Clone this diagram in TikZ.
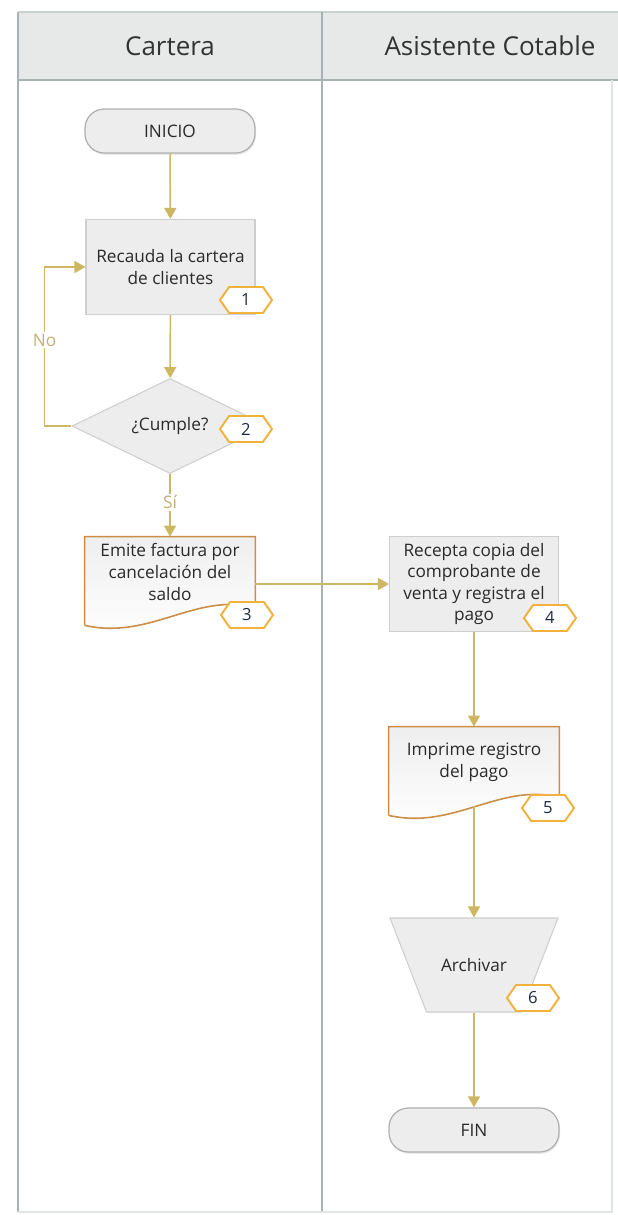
\documentclass[tikz,border=0pt]{standalone}
\usepackage{fontspec}
\setmainfont{Open Sans}
\usetikzlibrary{arrows.meta,shapes.geometric,shapes.symbols,backgrounds,shadows,calc}
\definecolor{lanegray}{HTML}{A9B2B2}
\definecolor{headfill}{HTML}{E7E8E8}
\definecolor{boxfill}{HTML}{EDEDED}
\definecolor{boxline}{HTML}{CECECE}
\definecolor{flowgold}{HTML}{CDB763}
\definecolor{tagorange}{HTML}{F1B13C}
\definecolor{docorange}{HTML}{CC8D45}
\definecolor{labeltan}{HTML}{C4AE74}
\definecolor{inkgray}{HTML}{2A2A2A}
\definecolor{tagink}{HTML}{1F2A44}

\begin{document}
\begin{tikzpicture}[
    font=\fontsize{9.8}{12.3}\selectfont,
    text=inkgray,
    >=Latex,
    terminal/.style={
        draw=boxline!85!black,
        fill=boxfill,
        rounded corners=11pt,
        minimum width=3.4cm,
        minimum height=0.88cm,
        line width=0.7pt,
        drop shadow={opacity=0.18,shadow xshift=0.6pt,shadow yshift=-1pt}
    },
    process/.style={
        draw=boxline,
        fill=boxfill,
        minimum width=3.38cm,
        minimum height=1.9cm,
        align=center,
        line width=0.6pt
    },
    doctext/.style={
        minimum width=3.4cm,
        minimum height=1.4cm,
        align=center
    },
    docline/.style={
        draw=docorange,
        top color=gray!13,
        bottom color=white,
        line width=0.9pt
    },
    decision/.style={
        diamond,
        draw=boxline,
        fill=boxfill,
        minimum width=3.92cm,
        minimum height=1.9cm,
        inner sep=0pt,
        line width=0.6pt
    },
    manual/.style={
        trapezium,
        shape border rotate=180,
        trapezium angle=69,
        trapezium stretches=true,
        draw=boxline,
        fill=boxfill,
        minimum width=3.36cm,
        minimum height=1.88cm,
        line width=0.6pt
    },
    tag/.style={
        signal,
        signal to=east and west,
        signal pointer angle=110,
        draw=tagorange,
        fill=white,
        line width=1.1pt,
        minimum width=1.04cm,
        minimum height=0.52cm,
        inner sep=0pt,
        font=\fontsize{9.5}{11}\selectfont,
        text=tagink
    },
    lanehead/.style={font=\fontsize{14.8}{17}\selectfont,text=black!80},
    flow/.style={-{Triangle[length=2.2mm,width=2.4mm]},draw=flowgold,line width=0.9pt},
    answer/.style={fill=white,text=labeltan,inner sep=1pt}
]
\useasboundingbox (0,0) rectangle (12.36,-24.3);

% Swimlane pool
\fill[headfill] (0.36,-0.24) rectangle (12.36,-1.6);
\draw[lanegray!60,line width=0.8pt] (0.36,-0.24) -- (12.36,-0.24);
\draw[lanegray,line width=1.4pt] (0.36,-1.6) -- (12.36,-1.6);
\draw[lanegray,line width=1pt] (0.36,-0.24) -- (0.36,-24.24);
\draw[lanegray,line width=1pt] (6.44,-0.24) -- (6.44,-24.24);
\draw[lanegray!35,line width=0.6pt] (12.24,-1.6) -- (12.24,-24.24) -- (0.36,-24.24);

\node[lanehead] (cartera) at (3.4,-0.92) {Cartera};
\node[lanehead] (asistente) at (9.8,-0.92) {Asistente Cotable};

% Cartera lane
\node[terminal] (inicio) at (3.4,-2.62) {INICIO};
\node[process] (recauda) at (3.41,-5.34) {Recauda la cartera\\de clientes};
\node[decision] (cumple) at (3.4,-8.52) {¿Cumple?};
\node[doctext] (emite) at (3.4,-11.44) {Emite factura por\\cancelación del\\saldo};

% Asistente lane
\node[process] (recepta) at (9.48,-11.68) {Recepta copia del\\comprobante de\\venta y registra el\\pago};
\node[doctext] (imprime) at (9.48,-15.24) {Imprime registro\\del pago};
\node[manual,label=center:Archivar] (archivar) at (9.48,-19.3) {};
\node[terminal] (fin) at (9.48,-22.6) {FIN};

% Document outlines
\begin{scope}[on background layer]
\draw[docline] ($(emite.south west)+(0,-0.36)$) -- (emite.north west) -- (emite.north east) -- (emite.south east)
    .. controls ($(emite.south east)+(-1.2,0.3)$) and ($(emite.south west)+(1.3,-0.66)$) .. ($(emite.south west)+(0,-0.36)$);
\draw[docline] ($(imprime.south west)+(0,-0.36)$) -- (imprime.north west) -- (imprime.north east) -- (imprime.south east)
    .. controls ($(imprime.south east)+(-1.2,0.3)$) and ($(imprime.south west)+(1.3,-0.66)$) .. ($(imprime.south west)+(0,-0.36)$);
\end{scope}

% Step numbers
\node[tag] (tag1) at (4.92,-6.0) {1};
\node[tag] (tag2) at (4.92,-8.58) {2};
\node[tag] (tag3) at (4.94,-12.3) {3};
\node[tag] (tag4) at (11.0,-12.36) {4};
\node[tag] (tag5) at (10.96,-16.16) {5};
\node[tag] (tag6) at (10.66,-19.96) {6};

% Connectors
\draw[flow] (inicio) -- (recauda);
\draw[flow] (recauda) -- (cumple);
\draw[flow] (cumple.west) -- ++(-0.54,0) |- node[answer,pos=0.27] {No} (recauda.west);
\draw[flow] (cumple.south) -- node[answer,pos=0.45] {Sí} (emite.north);
\draw[flow] (emite.east |- recepta.west) -- (recepta.west);
\draw[flow] (recepta) -- (imprime);
\draw[flow] ($(imprime.south)+(0,-0.18)$) -- (archivar);
\draw[flow] (archivar) -- (fin);

\end{tikzpicture}
\end{document}
